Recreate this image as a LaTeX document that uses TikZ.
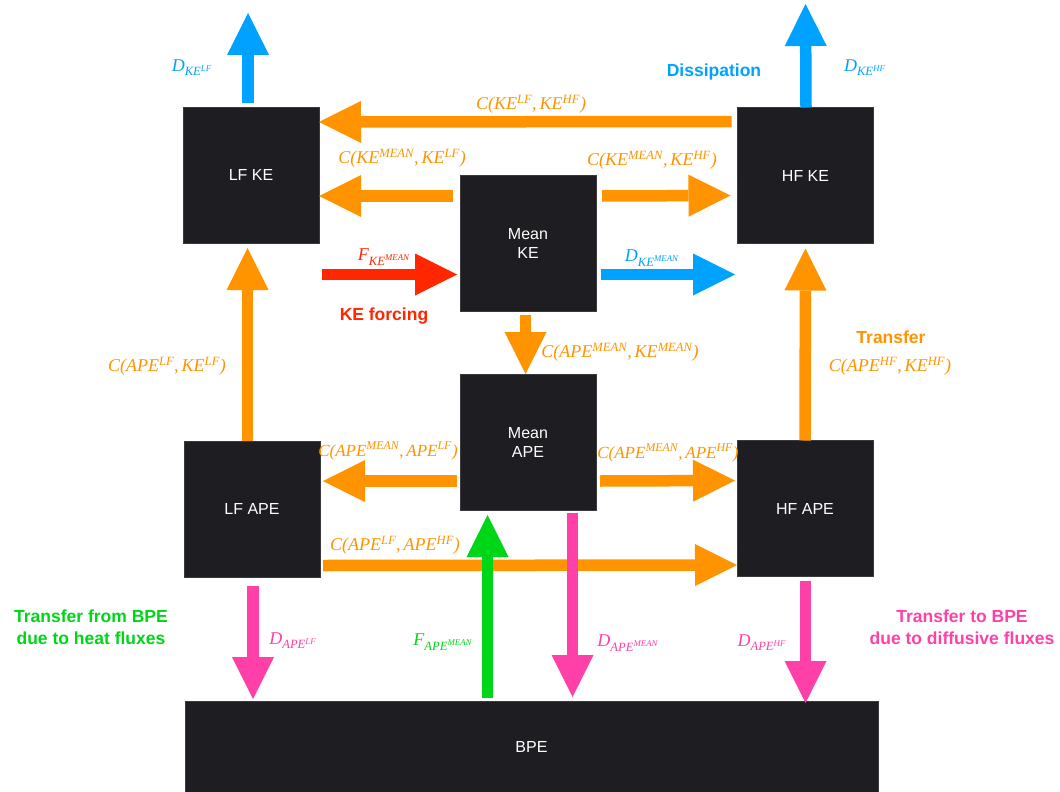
\documentclass[tikz,border=0pt]{standalone}
\usepackage{fontspec}
\setmainfont{Liberation Sans}
\newfontfamily\tms{Liberation Serif}
\usetikzlibrary{arrows.meta}
\definecolor{boxc}{HTML}{1E1D21}
\definecolor{boxe}{HTML}{3A393E}
\definecolor{orng}{HTML}{FF9300}
\definecolor{blu}{HTML}{00A2FF}
\definecolor{rd}{HTML}{FF2600}
\definecolor{grn}{HTML}{00D618}
\definecolor{pnk}{HTML}{FF40A8}
\newcommand{\mlab}[1]{{\tms\itshape #1}}
\newcommand{\sps}[1]{\textsuperscript{#1}}
\newcommand{\sbs}[1]{\textsubscript{#1}}
\tikzset{
  ebox/.style={fill=boxc, draw=boxe, line width=0.6pt, minimum width=136pt, minimum height=136pt,
    inner sep=0pt, outer sep=0pt, text=white, font=\fontsize{16}{19}\selectfont, align=center},
  flow/.style={line width=11.5pt, line cap=butt, -{Triangle[width=42pt,length=42pt,line width=0pt]}},
  mtext/.style={inner sep=0pt, font=\fontsize{18}{20}\selectfont},
  stext/.style={inner sep=0pt, font=\fontsize{17}{20}\selectfont},
  btext/.style={inner sep=0pt, font=\fontsize{17.5}{21.5}\selectfont\bfseries, align=center},
}
\begin{document}
\begin{tikzpicture}[x=1pt,y=-1pt]
\useasboundingbox (0,0) rectangle (1060,792);
% boxes
\node[ebox] (lfke) at (251,175) {LF KE};
\node[ebox] (hfke) at (805.5,175.5) {HF KE};
\node[ebox] (mke) at (528,243) {Mean\\KE};
\node[ebox] (mape) at (528,442) {Mean\\APE};
\node[ebox] (lfape) at (252,509) {LF APE};
\node[ebox] (hfape) at (805,508.5) {HF APE};
\node[ebox, minimum width=693pt, minimum height=92pt] (bpe) at (531.5,747) {BPE};
% free ends
\coordinate (t1) at (248,13);
\coordinate (t2) at (805.5,4);
\coordinate (f1) at (322,274.5);
\coordinate (t7) at (735,274.5);
% arrows
\draw[flow, blu] ([xshift=-3pt,yshift=4pt]lfke.north) -- (t1);
\draw[flow, blu] ([xshift=0.5pt]hfke.north) -- (t2);
\draw[flow, orng] ([xshift=-6pt,yshift=-14pt]hfke.north west) -- ([yshift=-15pt]lfke.north east);
\draw[flow, orng] ([xshift=-7pt,yshift=-21pt]mke.north west) -- ([yshift=-89pt]lfke.north east);
\draw[flow, orng] ([xshift=6pt,yshift=-21pt]mke.north east) -- ([xshift=-7pt,yshift=-88pt]hfke.north west);
\draw[flow, rd] (f1) -- ([xshift=-3pt,yshift=-99.5pt]mke.north west);
\draw[flow, blu] ([xshift=5pt,yshift=-99.5pt]mke.north east) -- (t7);
\draw[flow, orng] ([xshift=-2.5pt,yshift=-4pt]mke.south) -- ([xshift=-2.5pt]mape.north);
\draw[flow, orng] ([xshift=-4.5pt]lfape.north) -- ([xshift=-3.5pt,yshift=-5pt]lfke.south);
\draw[flow, orng] (hfape.north) -- ([yshift=-5pt]hfke.south);
\draw[flow, orng] ([xshift=-3pt,yshift=-107pt]mape.north west) -- ([xshift=3pt,yshift=-40pt]lfape.north east);
\draw[flow, orng] ([xshift=4pt,yshift=-107pt]mape.north east) -- ([xshift=-2pt,yshift=-40pt]hfape.north west);
\draw[flow, orng] ([xshift=3pt,yshift=-124.5pt]lfape.north east) -- ([yshift=-124.5pt]hfape.north west);
\draw[flow, pnk] ([xshift=1pt,yshift=-9pt]lfape.south) -- ([xshift=-278.5pt,yshift=2pt]bpe.north);
\draw[flow, grn] ([xshift=-44pt,yshift=3pt]bpe.north) -- ([xshift=-40.5pt,yshift=-5pt]mape.south);
\draw[flow, pnk] ([xshift=44.5pt,yshift=-3pt]mape.south) -- ([xshift=41pt,yshift=4pt]bpe.north);
\draw[flow, pnk] ([xshift=0.5pt,yshift=-4pt]hfape.south) -- ([xshift=274pt,yshift=-2pt]bpe.north);
% labels
\node[mtext, text=blu] (ld1) at (192,68) {\mlab{D\sbs{KE\sps{LF}}}};
\node[btext, text=blu] (ldis) at (714,72) {Dissipation};
\node[mtext, text=blu] (ld2) at (865,68) {\mlab{D\sbs{KE\sps{HF}}}};
\node[mtext, text=orng] (lc1) at (531,104) {\mlab{C(KE\sps{LF},\,KE\sps{HF})}};
\node[mtext, text=orng] (lc2) at (402,158) {\mlab{C(KE\sps{MEAN},\,KE\sps{LF})}};
\node[mtext, text=orng] (lc3) at (652,160) {\mlab{C(KE\sps{MEAN},\,KE\sps{HF})}};
\node[mtext, text=rd] (lf1) at (384,257) {\mlab{F\sbs{KE\sps{MEAN}}}};
\node[btext, text=rd] (lkef) at (384,316) {KE forcing};
\node[mtext, text=blu] (ld3) at (652,258) {\mlab{D\sbs{KE\sps{MEAN}}}};
\node[mtext, text=orng] (lc4) at (620,352) {\mlab{C(APE\sps{MEAN},\,KE\sps{MEAN})}};
\node[btext, text=orng] (ltr) at (891,337) {Transfer};
\node[mtext, text=orng] (lc5) at (890,366) {\mlab{C(APE\sps{HF},\,KE\sps{HF})}};
\node[mtext, text=orng] (lc6) at (167,366) {\mlab{C(APE\sps{LF},\,KE\sps{LF})}};
\node[stext, text=orng] (lc7) at (388,451) {\mlab{C(APE\sps{MEAN},\,APE\sps{LF})}};
\node[stext, text=orng] (lc8) at (668,453) {\mlab{C(APE\sps{MEAN},\,APE\sps{HF})}};
\node[mtext, text=orng] (lc9) at (395,545) {\mlab{C(APE\sps{LF},\,APE\sps{HF})}};
\node[btext, text=grn] (lgr) at (91,627) {Transfer from BPE\\due to heat fluxes};
\node[mtext, text=pnk] (ld4) at (293,641) {\mlab{D\sbs{APE\sps{LF}}}};
\node[mtext, text=grn] (lf2) at (443,642) {\mlab{F\sbs{APE\sps{MEAN}}}};
\node[mtext, text=pnk] (ld5) at (628,643) {\mlab{D\sbs{APE\sps{MEAN}}}};
\node[mtext, text=pnk] (ld6) at (762,643) {\mlab{D\sbs{APE\sps{HF}}}};
\node[btext, text=pnk] (lpk) at (962,627) {Transfer to BPE\\due to diffusive fluxes};
\end{tikzpicture}
\end{document}
